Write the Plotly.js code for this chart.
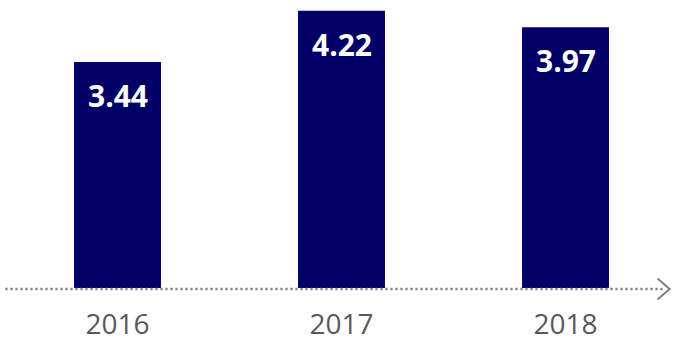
<!DOCTYPE html>
<html>
<head>
<meta charset="utf-8">
<script src="https://cdn.plot.ly/plotly-3.0.1.min.js"></script>
<style>
  html, body { margin: 0; padding: 0; background: #ffffff; }
  #chart { width: 673px; height: 342px; }
</style>
</head>
<body>
<div id="chart"></div>
<script>
// Yearly values shown as bars
const years = ['2016', '2017', '2018'];
const values = [3.44, 4.22, 3.97];
const valueLabels = ['3.44', '4.22', '3.97'];

const navy = '#000066';
const axisGrey = '#7f7f7f';

const barTrace = {
  type: 'bar',
  x: years,
  y: values,
  marker: { color: navy },
  hoverinfo: 'none'
};

// White value labels sitting just under the top of each bar
// (category axes place annotations by category index)
const labelNotes = years.map((yr, i) => ({
  x: i,
  y: values[i],
  xref: 'x',
  yref: 'y',
  text: valueLabels[i],
  showarrow: false,
  yanchor: 'top',
  yshift: -11,
  font: { family: 'Open Sans, sans-serif', size: 30, color: '#ffffff', weight: 700 }
}));

const layout = {
  width: 673,
  height: 342,
  margin: { l: 0, r: 0, t: 0, b: 54, pad: 0 },
  paper_bgcolor: '#ffffff',
  plot_bgcolor: '#ffffff',
  showlegend: false,
  bargap: 0.612,
  xaxis: {
    type: 'category',
    range: [-0.5246, 2.4799],
    showgrid: false,
    zeroline: false,
    showline: false,
    ticks: '',
    ticklabelstandoff: 17,
    tickfont: { family: 'Open Sans, sans-serif', size: 28, color: '#595959' },
    fixedrange: true
  },
  yaxis: {
    range: [0, 4.383],
    visible: false,
    showgrid: false,
    zeroline: false,
    fixedrange: true
  },
  annotations: labelNotes,
  shapes: [
    // dotted baseline
    {
      type: 'line',
      xref: 'paper', yref: 'paper',
      x0: 0.008, x1: 0.985,
      y0: -0.0035, y1: -0.0035,
      line: { color: axisGrey, width: 2.5, dash: '2.2px,2.8px' }
    },
    // arrow head at the right end of the baseline
    {
      type: 'path',
      xref: 'paper', yref: 'paper',
      path: 'M0.977,0.033 L0.995,-0.0035 L0.977,-0.040',
      line: { color: axisGrey, width: 2 }
    }
  ]
};

Plotly.newPlot('chart', [barTrace], layout, { displayModeBar: false, staticPlot: true });
</script>
</body>
</html>
